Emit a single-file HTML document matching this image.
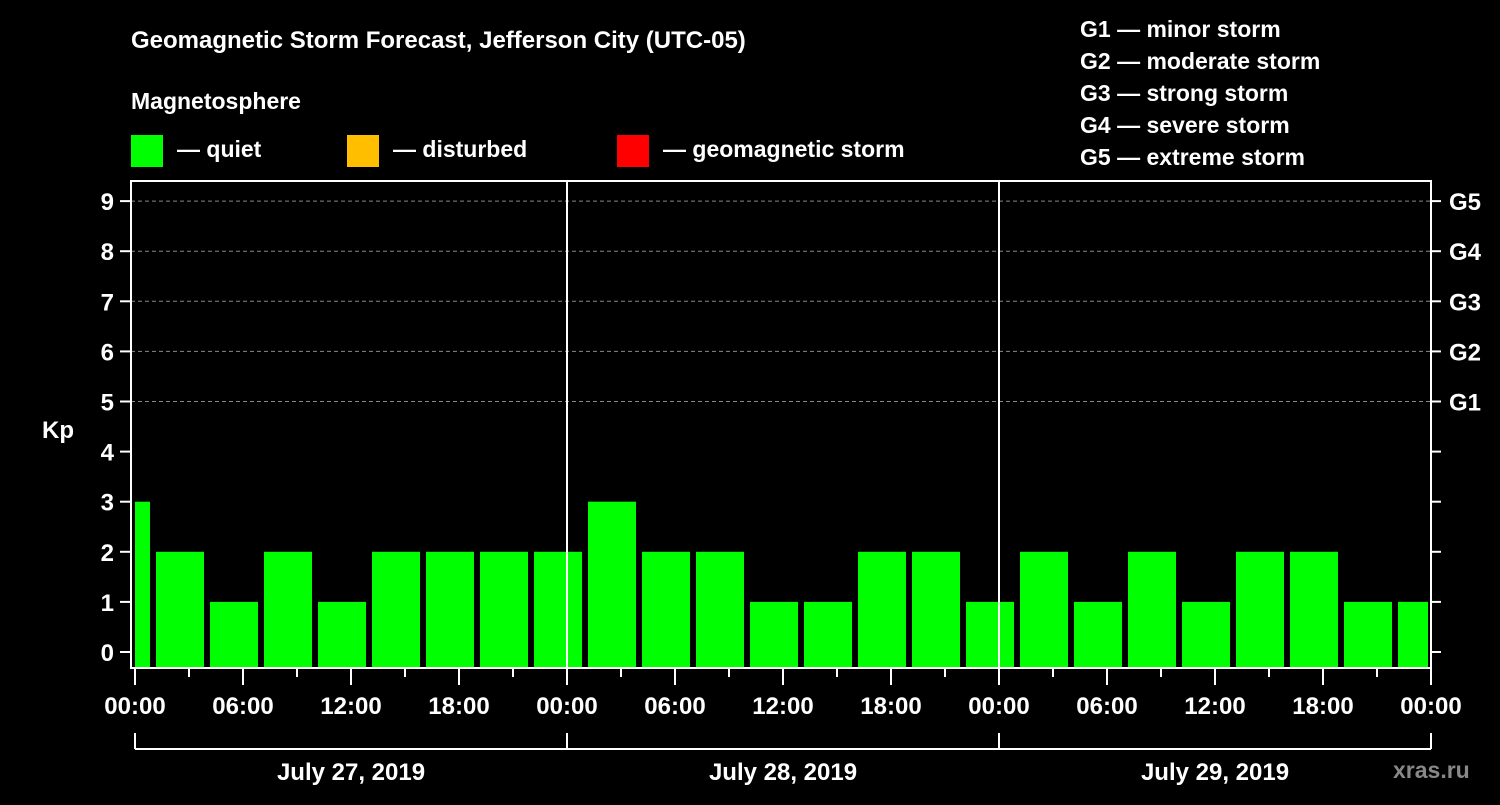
<!DOCTYPE html>
<html><head><meta charset="utf-8"><style>
body{margin:0;background:#000;width:1500px;height:800px;overflow:hidden}
svg text{font-family:"Liberation Sans",sans-serif;font-weight:bold;fill:#fff}
</style></head><body>
<svg id="c" width="1500" height="800">
<rect width="1500" height="800" fill="#000"/>
<text x="131" y="48" font-size="24">Geomagnetic Storm Forecast, Jefferson City (UTC-05)</text>
<text x="131" y="109" font-size="23">Magnetosphere</text>
<g><rect x="131" y="135" width="32" height="32" fill="#00ff00"/><text x="177" y="157" font-size="23">— quiet</text></g>
<g><rect x="347" y="135" width="32" height="32" fill="#ffbf00"/><text x="393" y="157" font-size="23">— disturbed</text></g>
<g><rect x="617" y="135" width="32" height="32" fill="#ff0000"/><text x="663" y="157" font-size="23">— geomagnetic storm</text></g>
<g font-size="23">
<text x="1080" y="37">G1 — minor storm</text><text x="1080" y="69">G2 — moderate storm</text><text x="1080" y="101">G3 — strong storm</text><text x="1080" y="133">G4 — severe storm</text><text x="1080" y="165">G5 — extreme storm</text></g>
<text x="42" y="438" font-size="24">Kp</text>
<text x="1393" y="778" font-size="23" style="fill:#888">xras.ru</text>
<g id="plot"></g>
</svg>
<script>
const barStartHours=[-2,1,4,7,10,13,16,19,22,25,28,31,34,37,40,43,46,49,52,55,58,61,64,67,70];
const kpValues=[3,2,1,2,1,2,2,2,2,3,2,2,1,1,2,2,1,2,1,2,1,2,2,1,1];
const yTicks=[0,1,2,3,4,5,6,7,8,9];
const gLabels=["G1","G2","G3","G4","G5"];
const gLevels=[5,6,7,8,9];
const xTickLabels=["00:00","06:00","12:00","18:00","00:00","06:00","12:00","18:00","00:00","06:00","12:00","18:00","00:00"];
const dayLabels=["July 27, 2019","July 28, 2019","July 29, 2019"];
const X0=135,PH=18,L=131,R=1431,T=181,B=668;
const xs=h=>X0+h*PH;
const ys=v=>652-v*50.1;
const NS="http://www.w3.org/2000/svg";
const g=document.getElementById('plot');
function mk(t,a,txt){const e=document.createElementNS(NS,t);for(const k in a)e.setAttribute(k,a[k]);if(txt!=null)e.textContent=txt;g.appendChild(e);return e;}
gLevels.forEach(v=>{const e=mk('line',{x1:L,x2:R,y1:ys(v),y2:ys(v),stroke:'#888','stroke-dasharray':'4,3','stroke-width':1});

});
barStartHours.forEach((h,i)=>{let a=Math.max(xs(h)+3,L+4),b=Math.min(xs(h+3)-3,R-3);
const v=kpValues[i];const col=v>=5?'#ff0000':v>=4?'#ffbf00':'#00ff00';
const e=mk('rect',{x:a,y:ys(v),width:b-a,height:B-ys(v),fill:col});

});
[1,2].forEach(d=>{const e=mk('line',{x1:xs(24*d),x2:xs(24*d),y1:T,y2:B,stroke:'#fff','stroke-width':2});

});
const fr=mk('rect',{x:L,y:T,width:R-L,height:B-T,fill:'none',stroke:'#fff','stroke-width':2});


yTicks.forEach(v=>{mk('line',{x1:120,x2:L,y1:ys(v),y2:ys(v),stroke:'#fff','stroke-width':2});
mk('line',{x1:R,x2:R+10,y1:ys(v),y2:ys(v),stroke:'#fff','stroke-width':2});
const t=mk('text',{x:114,y:ys(v)+9,'text-anchor':'end','font-size':24},v);

});
gLabels.forEach((s,i)=>{const t=mk('text',{x:1449,y:ys(gLevels[i])+9,'font-size':24},s);

});
for(let h=0;h<=72;h+=3){const major=h%6===0;mk('line',{x1:xs(h),x2:xs(h),y1:B,y2:major?685:677,stroke:'#fff','stroke-width':2});}
xTickLabels.forEach((s,i)=>{const t=mk('text',{x:xs(i*6),y:714,'text-anchor':'middle','font-size':24},s);

});
mk('line',{x1:xs(0),x2:xs(72),y1:749,y2:749,stroke:'#fff','stroke-width':2});
[0,24,48,72].forEach(h=>mk('line',{x1:xs(h),x2:xs(h),y1:733,y2:749,stroke:'#fff','stroke-width':2}));
dayLabels.forEach((s,i)=>{const t=mk('text',{x:xs(24*i+12),y:780,'text-anchor':'middle','font-size':24},s);

});
</script>
</body></html>
